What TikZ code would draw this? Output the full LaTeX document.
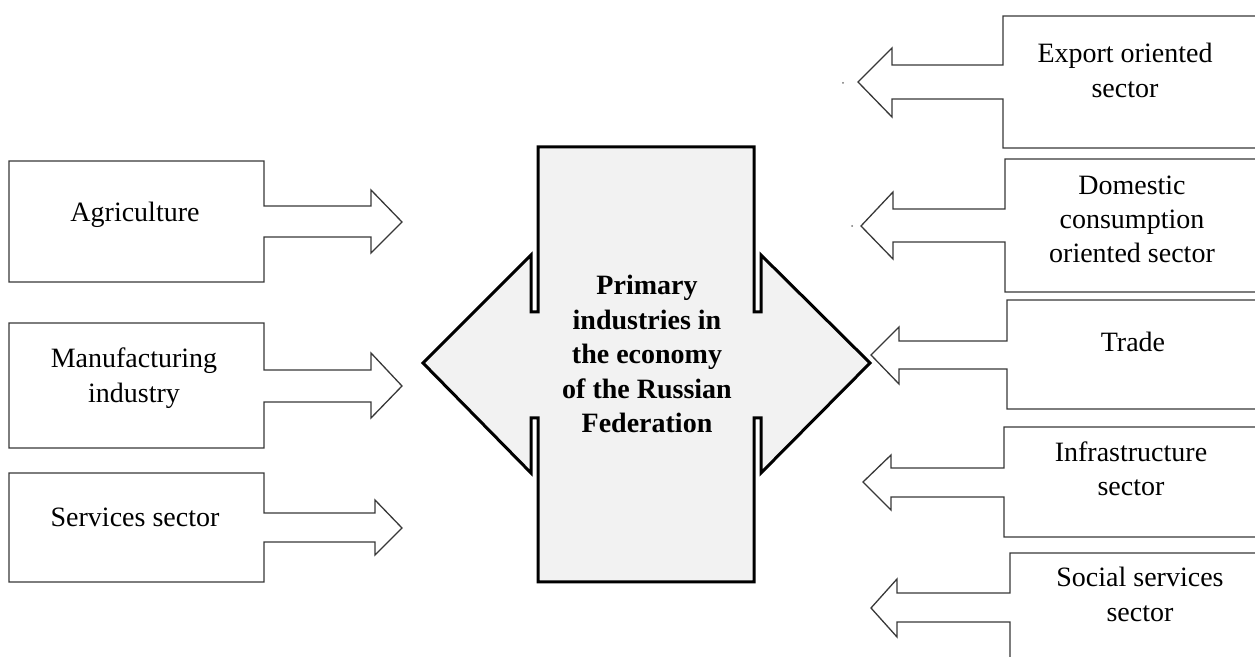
\documentclass[tikz,border=0pt]{standalone}
\usepackage{fontspec}
\setmainfont{Liberation Serif}
\begin{document}
\begin{tikzpicture}[x=0.5pt,y=-0.5pt,
  sidebox/.style={draw=black!78,line width=0.65pt,fill=white,line join=miter},
  hub/.style={draw=black,line width=1.5pt,fill=black!5,line join=miter},
  lbl/.style={font=\fontsize{14}{17.5}\selectfont,align=center,inner sep=0pt,anchor=base},
  hublbl/.style={font=\bfseries\fontsize{14}{17.25}\selectfont,align=center,inner sep=0pt,anchor=base},
  speck/.style={fill=black!55,draw=none}]
\useasboundingbox (0,0) rectangle (1255,657);
\clip (0,0) rectangle (1255,657);

% central shape
\path[hub] (538,147) -- (754,147) -- (754,312) -- (761,312) -- (761,255) -- (870,363)
  -- (761,473) -- (761,418) -- (754,418) -- (754,582) -- (538,582) -- (538,418)
  -- (531,418) -- (531,473) -- (423,363) -- (531,255) -- (531,312) -- (538,312) -- cycle;
\node[hublbl] (hub) at (647,433) {Primary\\industries in\\the economy\\of the Russian\\Federation};

% left boxes with arrows
\path[sidebox] (9,161) -- (264,161) -- (264,206) -- (371,206) -- (371,190) -- (402,222)
  -- (371,253) -- (371,237) -- (264,237) -- (264,282) -- (9,282) -- cycle;
\node[lbl] (agr) at (135,222) {Agriculture};

\path[sidebox] (9,323) -- (264,323) -- (264,370) -- (371,370) -- (371,353) -- (402,386)
  -- (371,418) -- (371,402) -- (264,402) -- (264,448) -- (9,448) -- cycle;
\node[lbl] (man) at (134,403) {Manufacturing\\industry};

\path[sidebox] (9,473) -- (264,473) -- (264,513) -- (375,513) -- (375,500) -- (402,528)
  -- (375,555) -- (375,542) -- (264,542) -- (264,582) -- (9,582) -- cycle;
\node[lbl] (ser) at (135,527) {Services sector};

% right boxes with arrows
\path[sidebox] (1270,16) -- (1003,16) -- (1003,65) -- (892,65) -- (892,48) -- (858,82)
  -- (892,117) -- (892,99) -- (1003,99) -- (1003,148) -- (1270,148);
\node[lbl] (exp) at (1125,98) {Export oriented\\sector};

\path[sidebox] (1270,159) -- (1005,159) -- (1005,209) -- (893,209) -- (893,192) -- (861,226)
  -- (893,259) -- (893,242) -- (1005,242) -- (1005,292) -- (1270,292);
\node[lbl,font=\fontsize{14}{17}\selectfont] (dom) at (1132,263) {Domestic\\consumption\\oriented sector};

\path[sidebox] (1270,300) -- (1007,300) -- (1007,341) -- (899,341) -- (899,327) -- (871,355)
  -- (899,384) -- (899,369) -- (1007,369) -- (1007,409) -- (1270,409);
\node[lbl] (trd) at (1133,352) {Trade};

\path[sidebox] (1270,427) -- (1004,427) -- (1004,468) -- (891,468) -- (891,455) -- (863,482)
  -- (891,510) -- (891,497) -- (1004,497) -- (1004,537) -- (1270,537);
\node[lbl,font=\fontsize{14}{17}\selectfont] (inf) at (1131,496) {Infrastructure\\sector};

\path[sidebox] (1270,553) -- (1010,553) -- (1010,593) -- (897,593) -- (897,579) -- (871,608)
  -- (897,637) -- (897,622) -- (1010,622) -- (1010,670);
\node[lbl] (soc) at (1140,622) {Social services\\sector};

% small specks
\fill[speck] (843,83) circle (1);
\fill[speck] (852,226) circle (1);
\end{tikzpicture}
\end{document}
